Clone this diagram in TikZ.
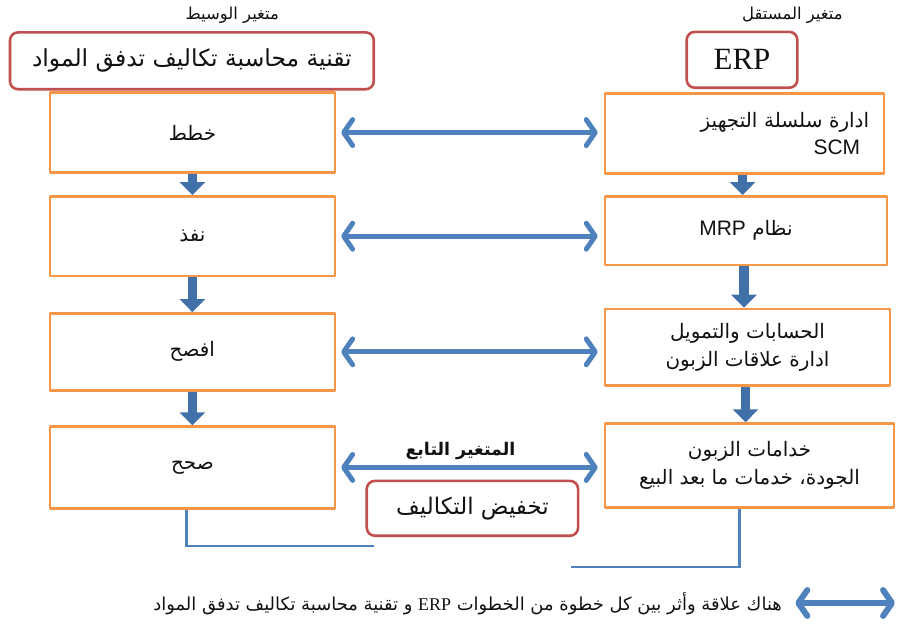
\documentclass[tikz,border=0pt]{standalone}
\usepackage{fontspec}
\setmainfont{Liberation Serif}
\newfontfamily\arabicfont[Script=Arabic]{DejaVu Sans}
\newfontfamily\latinsans{Liberation Sans}
\TeXXeTstate=1
\usetikzlibrary{arrows.meta,positioning}
\definecolor{flowBlue}{HTML}{4F81BD}
\definecolor{flowBlueDark}{HTML}{4171A8}
\definecolor{flowOrange}{HTML}{F79646}
\definecolor{flowRed}{HTML}{C0504D}
\definecolor{flowInk}{HTML}{111111}
\newcommand{\ar}[1]{\arabicfont\beginR #1\endR}
\newcommand{\lt}[1]{\beginL{\latinsans\fontsize{21}{26}\selectfont #1}\endL{}}

\begin{document}
\begin{tikzpicture}[x=1pt,y=-1pt,>=Latex,line cap=round,line join=round]
\path[fill=white] (0,0) rectangle (898,627);
\tikzset{stepbox/.style={draw=flowOrange,line width=2.6pt,fill=white,text=flowInk,inner sep=4pt,font=\fontsize{20}{28}\selectfont},
varbox/.style={draw=flowRed,line width=2.6pt,rounded corners=8pt,fill=white,text=flowInk},
link/.style={draw=flowBlue,line width=5pt,{Straight Barb[length=9pt,width=26pt,round]}-{Straight Barb[length=9pt,width=26pt,round]}},
down/.style={draw=flowBlueDark,line width=9.5pt,line cap=butt,-{Triangle[length=13pt,width=25pt]}},
bracket/.style={draw=flowBlue,line width=2.6pt,line cap=butt,line join=miter},
caption/.style={text=flowInk,font=\fontsize{16.5}{19}\selectfont}}
% headings
\node[caption] (medlbl) at (233,15) {\ar{متغير الوسيط}};
\node[caption] (indlbl) at (795,15) {\ar{متغير المستقل}};
\node[varbox,minimum width=365,minimum height=57,font=\fontsize{23.5}{26}\selectfont] (med) at (192.5,61) {\ar{تقنية محاسبة تكاليف تدفق المواد}};
\node[varbox,minimum width=111,minimum height=56,font=\fontsize{31}{34}\selectfont] (erp) at (744.5,60) {ERP};
% left column
\node[stepbox,minimum width=286,minimum height=80] (l1) at (193,133) {\ar{خطط}};
\node[stepbox,minimum width=286,minimum height=80] (l2) at (193,237) {\ar{نفذ}};
\node[stepbox,minimum width=286,minimum height=77] (l3) at (193,353) {\ar{افصح}};
\node[stepbox,minimum width=286,minimum height=82] (l4) at (193,469) {\ar{صحح}};
% right column
\node[stepbox,minimum width=280,minimum height=80,text width=250,align=right] (r1) at (747,134) {\ar{ادارة سلسلة التجهيز}\\\lt{SCM}\hspace*{9pt}};
\node[stepbox,minimum width=283,minimum height=69] (r2) at (748.5,231.5) {\arabicfont\beginR نظام \lt{MRP}\endR};
\node[stepbox,minimum width=286,minimum height=77,align=center] (r3) at (750,348.5) {\ar{الحسابات والتمويل}\\\ar{ادارة علاقات الزبون}};
\node[stepbox,minimum width=290,minimum height=84,align=center] (r4) at (752,467) {\ar{خدامات الزبون}\\\ar{الجودة، خدمات ما بعد البيع}};
% dependent variable
\node[varbox,minimum width=212,minimum height=55,font=\fontsize{23}{26}\selectfont] (cost) at (474,510) {\ar{تخفيض التكاليف}};
\node[caption,font=\bfseries\fontsize{17.5}{20}\selectfont] (deplbl) at (462,452) {\ar{المتغير التابع}};
% flow downwards
\foreach \a/\b in {l1/l2,l2/l3,l3/l4}
  \draw[down] (\a.south) -- (\b.north);
\foreach \a/\b in {r1/r2,r2/r3,r3/r4}
  \draw[down] ([xshift=-2pt]\a.south) -- ([xshift=-2pt]\a.south |- \b.north);
% links between the two sides
\foreach \n in {1,2,3,4}
  \draw[link,shorten <=5pt,shorten >=6pt] (l\n.east) -- (l\n.east -| r\n.west);
% brackets under the last boxes
\coordinate (lbend) at (187,548);
\coordinate (lend) at (375,548);
\coordinate (rbend) at (742,569);
\coordinate (rend) at (573,569);
\draw[bracket] (l4.south -| lbend) -- (lbend) -- (lend);
\draw[bracket] (r4.south -| rbend) -- (rbend) -- (rend);
% legend
\coordinate (keyl) at (798,605);
\coordinate (keyr) at (898,605);
\draw[link,line width=6pt] (keyl) -- (keyr);
\node[caption,anchor=east,font=\fontsize{18}{20}\selectfont] (keytxt) at (788,606) {\arabicfont\beginR هناك علاقة  وأثر بين كل خطوة من الخطوات \beginL{\rmfamily ERP}\endL{} و تقنية محاسبة تكاليف تدفق المواد\endR};
\end{tikzpicture}
\end{document}
